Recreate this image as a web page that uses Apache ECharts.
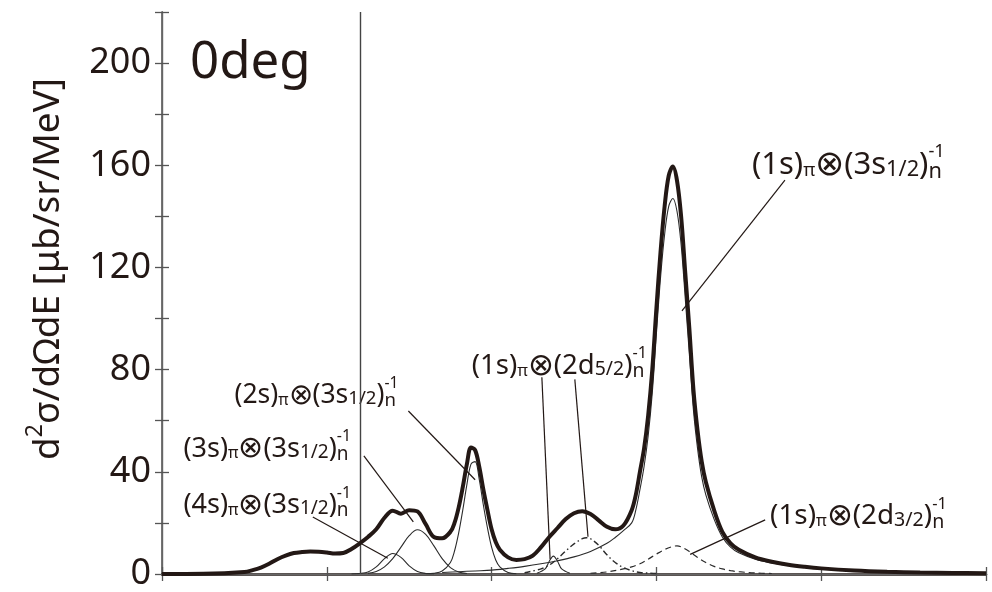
<!DOCTYPE html>
<html>
<head>
<meta charset="utf-8">
<script src="https://cdn.jsdelivr.net/npm/echarts/dist/echarts.min.js"></script>
<style>
  html, body { margin: 0; padding: 0; background: #fff; }
  #chart { width: 992px; height: 592px; }
</style>
</head>
<body>
<div id="chart"></div>
<script>
// ---- spectrum data (x: energy axis position, y: dσ/dΩdE) ----
const totalX = [0,5,10,11,12,13,14,15,16,17,18,19,20,21,22,23,24,25,26,27,28,29,30,31,32,33,34,35,
  35.5,36,36.5,37,37.5,38,38.5,39,39.5,40,40.5,41,
  42,43,44,45,46,47,48,49,50,51,52,53,54,55,56,57,
  57.5,58,58.5,59,59.5,60,60.5,61,61.5,62,62.5,63,63.5,64,64.5,65,65.5,
  66,67,68,69,70,72,74,76,78,80,84,88,92,96,100];
const totalY = [0,0.1,0.8,1.5,2.5,4,5.8,7.2,8.2,8.6,8.8,8.7,8.4,8.0,8.2,9.8,12,14.5,17.5,22,24.8,23.6,25,24.5,19.5,14.5,14,16.5,
  20,26,34,43,49.5,48.5,42,33,25,17.5,12.5,9.5,
  6.5,5.5,5.8,7.2,10.5,14.5,18,21.5,23.8,24.6,23.5,21,18.5,17.5,19,25,
  31,40,49,62,80,104,126,144,156,159.5,154,140,118,96,72,56,44,
  36,25,16.5,12,9.5,6.5,4.8,3.6,2.8,2.2,1.4,0.9,0.6,0.4,0.3];

// (1s)π ⊗ (3s1/2)n^-1
const s1s3sX = [34,36,38,40,42,44,46,48,50,52,54,55,56,57,
  57.5,58,58.5,59,59.5,60,60.5,61,61.5,62,62.5,63,63.5,64,64.5,65,65.5,
  66,67,68,69,70,72,74,76,78,80,84,88,92,96,100];
const s1s3sY = [0.6,0.9,1.2,1.5,2.2,3,4,5.2,6.7,8.8,12,14.3,17,20,
  25,33,42,54,71,94,116,133,144,147,142,129,108,86,64,49,38,
  31,21.5,14.5,10.5,8.3,5.8,4.3,3.3,2.6,2.0,1.3,0.9,0.6,0.4,0.3];

// small narrow peak under the (1s)π ⊗ (2d5/2) label
const smallX = [45.5,46.5,47,47.5,48,48.5,49.5];
const smallY = [0.3,2,5,7,5,2,0.3];

// (1s)π ⊗ (2d5/2)n^-1  (dash-dot)
const s1d5X = [44,46,47,48,49,50,51,51.5,52,53,54,55,56,57,58,60];
const s1d5Y = [0.5,2,3.5,6,9,11.8,13.8,14.2,13.8,11.2,7.5,4.5,2.5,1.3,0.6,0.2];

// (1s)π ⊗ (2d3/2)n^-1  (dashed)
const s1d3X = [52,54,56,57,58,59,60,61,62,62.5,63,64,65,66,67,68,69,70,72,74];
const s1d3Y = [0.3,0.8,2,2.8,4,5.8,7.8,9.6,10.8,11,10.6,8.8,6.5,4.5,3,2,1.3,0.9,0.4,0.2];

// (2s)π ⊗ (3s1/2)n^-1
const s2sX = [32,33,34,35,35.5,36,36.5,37,37.5,38,38.5,39,39.5,40,40.5,41,42,43];
const s2sY = [0.1,0.3,1.2,4.5,9,16,25,35,43,44,37,27,18,10.5,5.5,2.8,0.6,0.1];

// (3s)π ⊗ (3s1/2)n^-1
const s3sX = [25,26,27,28,29,30,31,32,33,34,35,36,37];
const s3sY = [0.3,1,2.8,6,10.5,15,17.3,15.5,11,6,2.5,0.8,0.2];

// (4s)π ⊗ (3s1/2)n^-1
const s4sX = [23,24,25,26,27,28,29,30,31,32,33];
const s4sY = [0,0.2,0.8,2.8,6,8,6.5,3.2,1,0.2,0];

// axis ticks
const yTicks = [0,40,80,120,160,200];
const thresholdX = 24;

// ---- annotation layout (data coordinates) ----
const leaders = [
  [[75.6,154.2],[63.1,103]],
  [[73.2,21.2],[64.1,7.7]],
  [[46.1,77],[47.1,5.8]],
  [[50.1,76.2],[51.7,14.6]],
  [[29.9,63.8],[38.0,36.9]],
  [[24.5,46.2],[30.5,20.4]],
  [[18.3,22.3],[27.4,6.2]]
];

const FONT = '"Noto Sans", "Open Sans", sans-serif';
const INK = '#231815';

const labelSpecs = [
  { at: [71.6, 160], scale: 1.15, parts: [['(1s)','n'],['π','pi'],['⊗','ot'],['(3s','n'],['1/2','sub'],[')','n'],['n','ns'],['-1','sup']] },
  { at: [73.8, 22.5], scale: 1.03, parts: [['(1s)','n'],['π','pi'],['⊗','ot'],['(2d','n'],['3/2','sub'],[')','n'],['n','ns'],['-1','sup']] },
  { at: [37.6, 81.5], scale: 1.02, parts: [['(1s)','n'],['π','pi'],['⊗','ot'],['(2d','n'],['5/2','sub'],[')','n'],['n','ns'],['-1','sup']] },
  { at: [8.8, 70],   scale: 0.98, parts: [['(2s)','n'],['π','pi'],['⊗','ot'],['(3s','n'],['1/2','sub'],[')','n'],['n','ns'],['-1','sup']] },
  { at: [2.6, 49],   scale: 1.0, parts: [['(3s)','n'],['π','pi'],['⊗','ot'],['(3s','n'],['1/2','sub'],[')','n'],['n','ns'],['-1','sup']] },
  { at: [2.6, 27],   scale: 1.0, parts: [['(4s)','n'],['π','pi'],['⊗','ot'],['(3s','n'],['1/2','sub'],[')','n'],['n','ns'],['-1','sup']] }
];

const zip = (xs, ys) => xs.map((x, i) => [x, ys[i]]);

const measureCtx = document.createElement('canvas').getContext('2d');
function textWidth(t, size) {
  measureCtx.font = size + 'px ' + FONT;
  return measureCtx.measureText(t).width;
}

// piece kinds: n normal, pi small pi, ot circled times, sub subscript fraction,
// ns subscript n, sup superscript stacked over the previous piece, supA superscript that advances
const LABEL_STY = {
  n:   { size: 27, dy: 0 },
  pi:  { size: 16, dy: 5 },
  ot:  { size: 30, dy: 0 },
  sub: { size: 19, dy: 4 },
  ns:  { size: 19, dy: 6 },
  sup: { size: 16, dy: -12 }
};
const TITLE_STY = {
  n:    { size: 37, dy: 0 },
  supA: { size: 23, dy: -13 }
};

function buildParts(parts, sty, ox, oy, scale) {
  const k0 = scale || 1;
  let x = ox, lastX = ox;
  const out = [];
  parts.forEach(([t, k]) => {
    const s = sty[k];
    const size = s.size * k0;
    const sx = (k === 'sup') ? lastX : x;
    out.push({
      type: 'text', x: sx, y: oy + s.dy * k0, silent: true,
      style: { text: t, font: size.toFixed(1) + 'px ' + FONT, fill: INK, align: 'left', verticalAlign: 'middle' }
    });
    if (k !== 'sup') { lastX = x; x += textWidth(t, size.toFixed(1)); }
  });
  return out;
}

const chart = echarts.init(document.getElementById('chart'), null, { renderer: 'canvas' });

const thin = (name, xs, ys, type, w) => ({
  name, type: 'line', data: zip(xs, ys), smooth: 0.35, symbol: 'none', silent: true,
  lineStyle: { color: '#2b2b2b', width: w || 1.1, type: type || 'solid' }, z: 3
});

const leaderSeries = leaders.map((seg, i) => ({
  name: 'leader' + i, type: 'line', data: seg, symbol: 'none', silent: true,
  lineStyle: { color: INK, width: 1.2 }, z: 4
}));

const axisCommon = {
  type: 'value', min: 0, max: 100, interval: 20,
  axisTick: { show: true, inside: true, length: 7, lineStyle: { color: '#555', width: 1.3 } },
  axisLabel: { show: false }, splitLine: { show: false }
};

chart.setOption({
  animation: false,
  grid: { left: 162, right: 6, top: 12, bottom: 9, containLabel: false },
  xAxis: [
    Object.assign({}, axisCommon, { position: 'bottom',
      axisLine: { show: true, lineStyle: { color: INK, width: 2.5 } } }),
    Object.assign({}, axisCommon, { position: 'top',
      axisLine: { show: true, lineStyle: { color: '#666', width: 1.4 } } })
  ],
  yAxis: [
    { type: 'value', min: 0, max: 220, interval: 20, position: 'left',
      axisLine: { show: true, lineStyle: { color: '#555', width: 1.6 } },
      axisTick: { show: true, inside: true, length: 7, lineStyle: { color: '#555', width: 1.3 } },
      axisLabel: { margin: 11, fontSize: 36, fontFamily: FONT, color: INK,
        formatter: v => (yTicks.indexOf(v) >= 0 ? String(v) : '') },
      splitLine: { show: false } },
    { type: 'value', min: 0, max: 220, interval: 20, position: 'right',
      axisLine: { show: true, lineStyle: { color: '#666', width: 1.4 } },
      axisTick: { show: true, inside: true, length: 7, lineStyle: { color: '#555', width: 1.3 } },
      axisLabel: { show: false }, splitLine: { show: false } }
  ],
  series: [
    thin('4s', s4sX, s4sY),
    thin('3s', s3sX, s3sY),
    thin('2s', s2sX, s2sY),
    thin('small', smallX, smallY),
    thin('1s2d5', s1d5X, s1d5Y, [6, 3, 1.5, 3], 1.4),
    thin('1s2d3', s1d3X, s1d3Y, [6, 4], 1.2),
    thin('1s3s', s1s3sX, s1s3sY),
    {
      name: 'total', type: 'line', data: zip(totalX, totalY), smooth: 0.35, symbol: 'none', silent: true,
      lineStyle: { color: INK, width: 4 }, z: 5,
      markLine: {
        silent: true, symbol: 'none', label: { show: false },
        lineStyle: { color: '#444', width: 1.4, type: 'solid' },
        data: [{ xAxis: thresholdX }]
      }
    }
  ].concat(leaderSeries)
});

function drawAnnotations() {
  const g = [];
  labelSpecs.forEach(spec => {
    const p = chart.convertToPixel({ xAxisIndex: 0, yAxisIndex: 0 }, spec.at);
    buildParts(spec.parts, LABEL_STY, p[0], p[1], spec.scale).forEach(c => g.push(c));
  });
  g.push({
    type: 'text', x: 190, y: 63, silent: true,
    style: { text: '0deg', font: '51px ' + FONT, fill: INK, align: 'left', verticalAlign: 'middle' }
  });
  g.push({
    type: 'group', x: 48, y: 460, rotation: Math.PI / 2, silent: true,
    children: buildParts([['d','n'],['2','supA'],['σ/dΩdE [μb/sr/MeV]','n']], TITLE_STY, 0, 0, 1)
  });
  chart.setOption({ graphic: g });
}
drawAnnotations();
</script>
</body>
</html>
